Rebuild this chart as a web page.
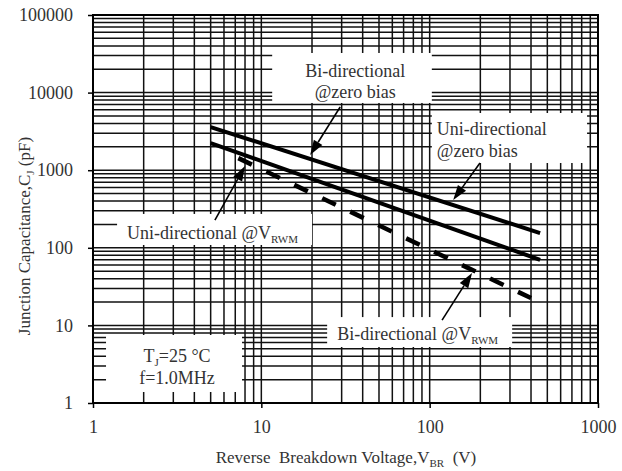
<!DOCTYPE html>
<html>
<head>
<meta charset="utf-8">
<script src="https://cdn.jsdelivr.net/npm/d3@7"></script>
<style>
  body { margin: 0; background: #fff; }
  svg text { font-family: "Liberation Serif", "Times New Roman", serif; fill: #333; }
</style>
</head>
<body>
<div id="chart"></div>
<script>
const width = 622;
const height = 471;
const margin = { top: 15, right: 24, bottom: 68, left: 93 };

// tick values
const xTicks = [1, 10, 100, 1000];
const yTicks = [1, 10, 100, 1000, 10000, 100000];

// curves: [V, pF]
const uniZeroBias = [[5, 3600], [453, 155]];
const biZeroBias = [[5, 2240], [453, 70]];
const biVrwm = [[7.3, 1430], [400, 22.5]];

// arrows: [from, tip] in data units
const arrows = [
  [[29.4, 6520], [19.5, 1570]],
  [[199, 1238], [138, 413]],
  [[5.3, 228], [8.0, 1133]],
  [[118.5, 11.7], [178.6, 47.3]],
];

// label boxes: corners in data units
const boxes = [
  { x0: 11.6, x1: 103, y0: 32400, y1: 7350 },
  { x0: 103, x1: 861, y0: 5460, y1: 1238 },
  { x0: 1.39, x1: 20, y0: 273, y1: 108.7 },
  { x0: 24.6, x1: 309, y0: 12.8, y1: 5.27 },
  { x0: 1.195, x1: 7.68, y0: 7.52, y1: 1.386 },
];

const svg = d3
  .select("#chart")
  .append("svg")
  .attr("width", width)
  .attr("height", height);

const xScale = d3
  .scaleLog()
  .domain([1, 1000])
  .range([margin.left, width - margin.right]);

const yScale = d3
  .scaleLog()
  .domain([1, 100000])
  .range([height - margin.bottom, margin.top]);

// full log grid (1..9 per decade)
const gridX = [];
[1, 10, 100].forEach((d) => {
  for (let k = 1; k < 10; k++) gridX.push(d * k);
});
gridX.push(1000);
const gridY = [];
[1, 10, 100, 1000, 10000].forEach((d) => {
  for (let k = 1; k < 10; k++) gridY.push(d * k);
});
gridY.push(100000);

const grid = svg.append("g").attr("stroke", "#111").attr("stroke-width", 1.5);
grid
  .selectAll("line.gx")
  .data(gridX)
  .enter()
  .append("line")
  .attr("x1", (d) => xScale(d))
  .attr("x2", (d) => xScale(d))
  .attr("y1", yScale(1))
  .attr("y2", yScale(100000));
grid
  .selectAll("line.gy")
  .data(gridY)
  .enter()
  .append("line")
  .attr("y1", (d) => yScale(d))
  .attr("y2", (d) => yScale(d))
  .attr("x1", xScale(1))
  .attr("x2", xScale(1000));

// white label boxes over the grid
svg
  .selectAll("rect.box")
  .data(boxes)
  .enter()
  .append("rect")
  .attr("class", "box")
  .attr("x", (d) => xScale(d.x0))
  .attr("y", (d) => yScale(d.y0))
  .attr("width", (d) => xScale(d.x1) - xScale(d.x0))
  .attr("height", (d) => yScale(d.y1) - yScale(d.y0))
  .attr("fill", "#fff");

// curves
const line = d3
  .line()
  .x((d) => xScale(d[0]))
  .y((d) => yScale(d[1]));

[uniZeroBias, biZeroBias].forEach((s) => {
  svg
    .append("path")
    .attr("d", line(s))
    .attr("fill", "none")
    .attr("stroke", "#000")
    .attr("stroke-width", 4);
});
svg
  .append("path")
  .attr("d", line(biVrwm))
  .attr("fill", "none")
  .attr("stroke", "#000")
  .attr("stroke-width", 4.5)
  .attr("stroke-dasharray", "15 16");

// arrows
arrows.forEach(([from, tip]) => {
  const x1 = xScale(from[0]);
  const y1 = yScale(from[1]);
  const x2 = xScale(tip[0]);
  const y2 = yScale(tip[1]);
  const a = Math.atan2(y2 - y1, x2 - x1);
  const len = 15;
  const half = 5;
  const bx = x2 - len * Math.cos(a);
  const by = y2 - len * Math.sin(a);
  svg
    .append("line")
    .attr("x1", x1)
    .attr("y1", y1)
    .attr("x2", bx)
    .attr("y2", by)
    .attr("stroke", "#000")
    .attr("stroke-width", 1.6);
  const pts = [
    [x2, y2],
    [bx + half * Math.sin(a), by - half * Math.cos(a)],
    [bx - half * Math.sin(a), by + half * Math.cos(a)],
  ];
  svg
    .append("polygon")
    .attr("points", pts.map((p) => p.join(",")).join(" "))
    .attr("fill", "#000");
});

// frame
svg
  .append("rect")
  .attr("x", xScale(1))
  .attr("y", yScale(100000))
  .attr("width", xScale(1000) - xScale(1))
  .attr("height", yScale(1) - yScale(100000))
  .attr("fill", "none")
  .attr("stroke", "#000")
  .attr("stroke-width", 2);

// axes
const xAxis = d3
  .axisBottom(xScale)
  .tickValues(xTicks)
  .tickFormat(d3.format("d"))
  .tickSize(5)
  .tickPadding(12);
const gx = svg
  .append("g")
  .attr("transform", `translate(0, ${yScale(1)})`)
  .call(xAxis);

const yAxis = d3
  .axisLeft(yScale)
  .tickValues(yTicks)
  .tickFormat(d3.format("d"))
  .tickSize(5)
  .tickPadding(15);
const gy = svg
  .append("g")
  .attr("transform", `translate(${xScale(1)}, 0)`)
  .call(yAxis);

[gx, gy].forEach((g) => {
  g.select(".domain").remove();
  g.selectAll(".tick line").attr("stroke", "#000").attr("stroke-width", 1.5);
  g.selectAll(".tick text")
    .attr("fill", "#333")
    .style("font-family", '"Liberation Serif", serif')
    .style("font-size", "18px");
});

// axis titles
const xTitle = svg
  .append("text")
  .attr("x", 346)
  .attr("y", 463)
  .attr("text-anchor", "middle")
  .style("font-size", "17px")
  .attr("xml:space", "preserve");
xTitle.append("tspan").text("Reverse  Breakdown Voltage,V");
xTitle.append("tspan").attr("dy", 4).style("font-size", "11px").text("BR");
xTitle.append("tspan").attr("dy", -4).text("  (V)");

const yTitle = svg
  .append("text")
  .attr("transform", "translate(30, 236) rotate(-90)")
  .attr("text-anchor", "middle")
  .style("font-size", "17px");
yTitle.append("tspan").text("Junction Capacitance,C");
yTitle.append("tspan").attr("dy", 4).style("font-size", "11px").text("J");
yTitle.append("tspan").attr("dy", -4).text(" (pF)");

// label texts placed relative to their boxes
function boxText(i, dx, dy, anchor) {
  const b = boxes[i];
  return svg
    .append("text")
    .attr("x", xScale(b.x0) + dx)
    .attr("y", yScale(b.y0) + dy)
    .attr("text-anchor", anchor)
    .style("font-size", "18px");
}

boxText(0, 83, 24, "middle").text("Bi-directional");
boxText(0, 83, 45, "middle").text("@zero bias");
boxText(1, 5, 22, "start").text("Uni-directional");
boxText(1, 5, 44, "start").text("@zero bias");

const t3 = boxText(2, 10, 25, "start");
t3.append("tspan").text("Uni-directional @V");
t3.append("tspan").attr("dy", 4).style("font-size", "11px").text("RWM");

const t4 = boxText(3, 10, 23, "start");
t4.append("tspan").text("Bi-directional @V");
t4.append("tspan").attr("dy", 4).style("font-size", "11px").text("RWM");

const t5 = boxText(4, 71, 27, "middle");
t5.append("tspan").text("T");
t5.append("tspan").attr("dy", 4).style("font-size", "11px").text("J");
t5.append("tspan").attr("dy", -4).text("=25 °C");
boxText(4, 71, 49, "middle").text("f=1.0MHz");
</script>
</body>
</html>
